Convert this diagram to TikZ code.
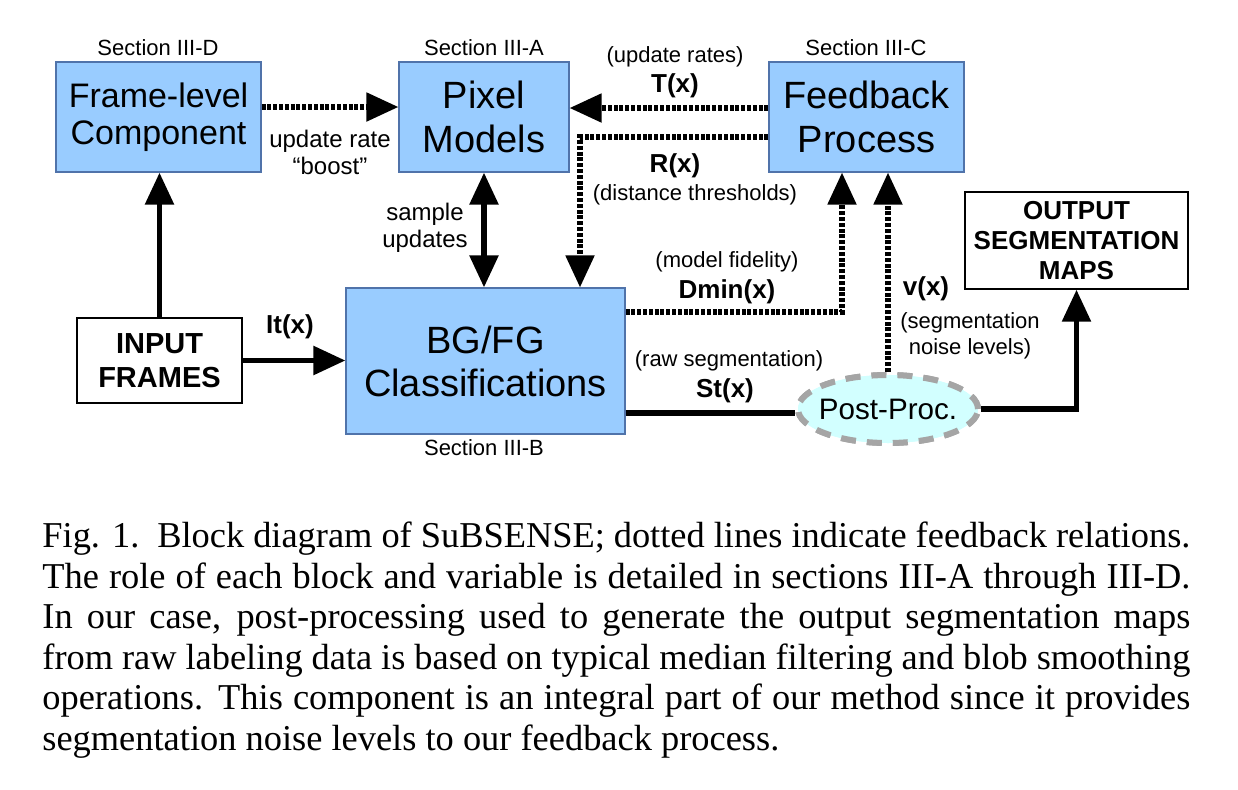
\documentclass[tikz,border=0pt]{standalone}
\usepackage{fontspec}
\setmainfont{Liberation Serif}
\newfontfamily\arial{Liberation Sans}
\usetikzlibrary{arrows.meta,shapes.geometric}
\definecolor{boxblue}{RGB}{153,204,255}
\definecolor{boxedge}{RGB}{80,115,170}
\definecolor{ppfill}{RGB}{210,255,255}
\definecolor{ppedge}{RGB}{165,165,165}
\begin{document}
\begin{tikzpicture}[x=0.5pt,y=-0.5pt,
 blk/.style={draw=boxedge, line width=0.6pt, fill=boxblue, align=center, inner sep=0pt, font=\arial\fontsize{19}{22}\selectfont},
 wbox/.style={draw=black, line width=0.7pt, fill=white, align=center, inner sep=0pt},
 lbl/.style={font=\arial\fontsize{11}{13}\selectfont, align=center, inner sep=0pt},
 lblb/.style={font=\arial\fontsize{12}{13.5}\selectfont, align=center, inner sep=0pt},
 var/.style={font=\arial\bfseries\fontsize{13}{15}\selectfont, inner sep=0pt},
 arr/.style={line width=2.8pt, -{Triangle[length=16pt,width=14pt]}},
 dotarr/.style={line width=2.6pt, dash pattern=on 2pt off 0.9pt, -{Triangle[length=16pt,width=14pt]}},
 ppstyle/.style={ellipse, draw=ppedge, fill=ppfill, line width=3pt, dash pattern=on 7.5pt off 5.5pt, minimum width=90pt, minimum height=34pt, inner sep=0pt, font=\arial\fontsize{14.8}{16}\selectfont},
 capline/.style={anchor=base west, inner sep=0pt, font=\fontsize{18.2}{20.3}\selectfont},
]
\useasboundingbox (0,0) rectangle (1238,789);

% blocks
\node[blk, minimum width=102.5pt, minimum height=55pt, font=\arial\fontsize{17}{18.5}\selectfont] (fl) at (158.5,117) {Frame-level\\Component};
\node[blk, minimum width=85pt, minimum height=55pt] (pm) at (484,117) {Pixel\\Models};
\node[blk, minimum width=97.5pt, minimum height=55pt] (fb) at (866.5,117) {Feedback\\Process};
\node[blk, minimum width=139.5pt, minimum height=73pt, font=\arial\fontsize{19}{21.5}\selectfont] (bg) at (485.5,361) {BG/FG\\Classifications};
\node[wbox, minimum width=82.5pt, minimum height=42.5pt, font=\arial\bfseries\fontsize{14.5}{17.3}\selectfont] (in) at (159.5,360.5) {INPUT\\FRAMES};
\node[wbox, minimum width=111.5pt, minimum height=48.5pt, font=\arial\bfseries\fontsize{13}{15}\selectfont] (out) at (1076.5,240.5) {OUTPUT\\SEGMENTATION\\MAPS};
\coordinate (ppc) at (888,409);

% section labels
\node[lbl] (sd) at (158,48) {Section III-D};
\node[lbl] (sa) at (484,48) {Section III-A};
\node[lbl] (sc) at (866,48) {Section III-C};
\node[lbl] (sb) at (484,448) {Section III-B};

% connectors
\draw[arr] (in.north) -- (in.north |- fl.south);
\draw[arr] (in.east) -- (in.east -| bg.west);
\draw[line width=2.8pt, {Triangle[length=16pt,width=14pt]}-{Triangle[length=16pt,width=14pt]}] (pm.south) -- (pm.south |- bg.north);
\draw[dotarr] ([yshift=5pt]fl.east) -- ([yshift=5pt]fl.east -| pm.west);
\draw[dotarr] ([yshift=4.5pt]fb.west) -- ([yshift=4.5pt]fb.west -| pm.east);
\draw[dotarr] ([yshift=-10pt]fb.west) -| ([xshift=47.25pt]bg.north);
\draw[dotarr] ([yshift=24.5pt]bg.east) -| ([xshift=-12.25pt]fb.south);
\node[ppstyle] (pp) at (ppc) {\makebox[0pt]{Post-Proc.}};
\draw[dotarr] (pp.north) -- (pp.north |- fb.south);
\coordinate (st) at ([yshift=-26pt]bg.east);
\draw[line width=2.8pt] (st) -- (st -| pp.west);
\draw[arr] (pp.east) -| (out.south);
\node[ppstyle] (pp2) at (ppc) {\makebox[0pt]{Post-Proc.}};

% connector labels
\node[lblb] (ub) at (330,152) {update rate\\“boost”};
\node[lbl] (ur) at (675,57) {(update rates)};
\node[var] (tx) at (675,86) {T(x)};
\node[var] (rx) at (675,166) {R(x)};
\node[lbl] (dt) at (695,195) {(distance thresholds)};
\node[lblb] (su) at (425,228) {sample\\updates};
\node[lbl] (mf) at (727,262) {(model fidelity)};
\node[var] (dm) at (727,292) {Dmin(x)};
\node[lbl] (rs) at (729,361) {(raw segmentation)};
\node[var] (sx) at (725,391) {St(x)};
\node[var] (vx) at (926,289) {v(x)};
\node[lbl] (nl) at (970,336) {(segmentation\\noise levels)};
\node[var] (ix) at (290,327) {It(x)};

% caption
\node[capline] (c1) at (42,547) {\makebox[574pt][s]{Fig. 1.\ \ Block diagram of SuBSENSE; dotted lines indicate feedback relations.}};
\node[capline] (c2) at (42,588) {\makebox[574pt][s]{The role of each block and variable is detailed in sections III-A through III-D.}};
\node[capline] (c3) at (42,628) {\makebox[574pt][s]{In our case, post-processing used to generate the output segmentation maps}};
\node[capline] (c4) at (42,669) {\makebox[574pt][s]{from raw labeling data is based on typical median filtering and blob smoothing}};
\node[capline] (c5) at (42,709) {\makebox[574pt][s]{operations. This component is an integral part of our method since it provides}};
\node[capline] (c6) at (42,750) {segmentation noise levels to our feedback process.};
\end{tikzpicture}
\end{document}
